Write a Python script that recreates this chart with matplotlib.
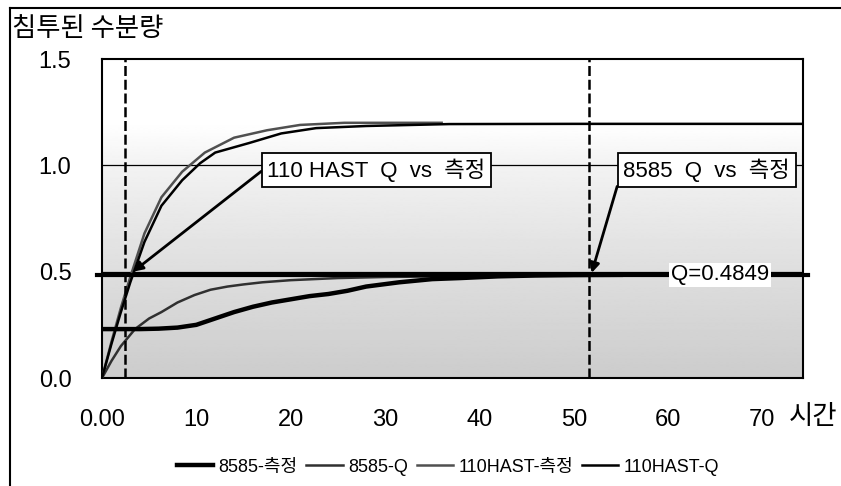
import numpy as np
import matplotlib
matplotlib.use('Agg')
import matplotlib.pyplot as plt
from matplotlib.lines import Line2D

# ---------- Data ----------
# 8585 condition: measured uptake and Q-model curve
t_8585_meas = [0, 2, 4, 6, 8, 10, 12, 14, 16, 18, 20, 22, 24, 26, 28, 31.5, 35, 38, 42, 46, 50, 55]
w_8585_meas = [0.23, 0.23, 0.23, 0.232, 0.237, 0.25, 0.28, 0.31, 0.335, 0.355, 0.37, 0.385,
               0.395, 0.41, 0.43, 0.45, 0.465, 0.47, 0.478, 0.482, 0.484, 0.485]

t_8585_q = [0, 1, 2, 3.5, 5, 6.3, 8, 9.8, 11.5, 13.3, 15, 17, 20, 25, 30, 40, 50, 60, 74.3]
w_8585_q = [0.0, 0.08, 0.15, 0.23, 0.28, 0.31, 0.355, 0.39, 0.415, 0.43, 0.44, 0.45,
            0.46, 0.47, 0.475, 0.48, 0.483, 0.484, 0.4849]

# 110HAST condition: measured uptake and Q-model curve
t_hast_meas = [0, 1, 2, 3, 4.5, 6.3, 8.5, 10.9, 14, 17.5, 21, 25.7, 30, 36]
w_hast_meas = [0.0, 0.17, 0.33, 0.475, 0.68, 0.85, 0.97, 1.06, 1.13, 1.165, 1.19, 1.20, 1.20, 1.20]

t_hast_q = [0, 1, 2, 3, 4.5, 6.3, 8.5, 10.4, 12, 15.6, 19, 22.7, 28, 36.8, 50, 74.3]
w_hast_q = [0.0, 0.16, 0.31, 0.45, 0.64, 0.81, 0.93, 1.01, 1.06, 1.105, 1.15, 1.175,
            1.185, 1.194, 1.195, 1.195]

Q_VALUE = 0.4849
T_CROSS = [2.4, 51.6]          # times marked by dashed verticals
X_TICKS = [0, 10, 20, 30, 40, 50, 60, 70]
X_TICK_LABELS = ['0.00', '10', '20', '30', '40', '50', '60', '70']
Y_TICKS = [0.0, 0.5, 1.0, 1.5]
Y_TICK_LABELS = ['0.0', '0.5', '1.0', '1.5']
SERIES_LABELS = ['8585-측정', '8585-Q', '110HAST-측정', '110HAST-Q']

X_MAX = 74.3
SANS = ['Liberation Sans', 'Noto Sans CJK KR', 'DejaVu Sans']
KOREAN = ['Noto Sans CJK KR', 'DejaVu Sans']

W, H = 841, 486
fig = plt.figure(figsize=(W / 100, H / 100), dpi=100)
ax = fig.add_axes([102 / W, 1 - 378 / H, (803 - 102) / W, (378 - 59) / H])

# shaded plot area: grey at the bottom fading to white near the top
yy = np.linspace(0, 1.5, 300)
shade = np.interp(yy, [0, 0.5, 1.0, 1.2, 1.5], [0.80, 0.87, 0.95, 1.0, 1.0]).reshape(-1, 1)
ax.imshow(shade, cmap='gray', vmin=0, vmax=1, origin='lower', aspect='auto',
          extent=[0, X_MAX, 0, 1.5], zorder=0, interpolation='bilinear')

# gridlines at 0.5 and 1.0
for yv in [0.5, 1.0]:
    ax.axhline(yv, color='black', lw=0.9, zorder=1)

# curves
ax.plot(t_8585_meas, w_8585_meas, color='black', lw=3.2, zorder=4, label=SERIES_LABELS[0])
ax.plot(t_8585_q, w_8585_q, color='#303030', lw=1.8, zorder=3, label=SERIES_LABELS[1])
ax.plot(t_hast_meas, w_hast_meas, color='#505050', lw=1.8, zorder=3, label=SERIES_LABELS[2])
ax.plot(t_hast_q, w_hast_q, color='black', lw=1.8, zorder=3, label=SERIES_LABELS[3])

# Q level line, runs slightly past the frame
ax.plot([-0.5, X_MAX + 0.5], [Q_VALUE, Q_VALUE], color='black', lw=3, zorder=5, clip_on=False)
ax.text(65.5, Q_VALUE, f'Q={Q_VALUE}', family=SANS, fontsize=16, ha='center', va='center',
        zorder=6, bbox=dict(boxstyle='square,pad=0.08', fc='white', ec='none'))

for tx in T_CROSS:
    ax.axvline(tx, color='black', lw=1.8, ls=(0, (4, 1.5)), zorder=5)

# callouts
ax.annotate('110 HAST  Q  vs  측정', xy=(3.3, 0.50), xytext=(29.1, 0.978),
            textcoords='data', ha='center', va='center', family=SANS, fontsize=16, zorder=7,
            bbox=dict(boxstyle='square,pad=0.25', fc='white', ec='black', lw=1.3),
            arrowprops=dict(arrowstyle='-|>', color='black', lw=2, mutation_scale=14,
                            shrinkA=0, shrinkB=0, relpos=(0, 0.65)))
ax.annotate('8585  Q  vs  측정', xy=(51.9, 0.494), xytext=(64.1, 0.978),
            textcoords='data', ha='center', va='center', family=SANS, fontsize=16, zorder=7,
            bbox=dict(boxstyle='square,pad=0.25', fc='white', ec='black', lw=1.3),
            arrowprops=dict(arrowstyle='-|>', color='black', lw=2, mutation_scale=14,
                            shrinkA=0, shrinkB=0, relpos=(0, 0.7)))

ax.set_xlim(0, X_MAX)
ax.set_ylim(0, 1.5)
ax.set_xticks(X_TICKS, X_TICK_LABELS)
ax.set_yticks(Y_TICKS, Y_TICK_LABELS)
ax.tick_params(axis='both', length=0)
ax.tick_params(axis='x', pad=22)
ax.tick_params(axis='y', pad=22)
for lab in ax.get_xticklabels():
    lab.set_family(SANS)
    lab.set_fontsize(17)
for lab in ax.get_yticklabels():
    lab.set_family(SANS)
    lab.set_fontsize(17)
for spine in ax.spines.values():
    spine.set_edgecolor('black')
    spine.set_linewidth(1.5)

# axis titles
fig.text(12 / W, 1 - 28 / H, '침투된 수분량', family=KOREAN, fontsize=19, ha='left', va='center')
fig.text(813 / W, 1 - 416 / H, '시간', family=KOREAN, fontsize=19, ha='center', va='center')

# legend under the plot
handles, labels = ax.get_legend_handles_labels()
fig.legend(handles, labels, loc='center', bbox_to_anchor=(448 / W, 19 / H), ncol=4,
           frameon=False, handlelength=2.0, handletextpad=0.3, columnspacing=0.5,
           prop={'family': SANS, 'size': 13})

# outer frame
fig.add_artist(Line2D([10 / W, 10 / W], [0, 1 - 8 / H], color='black', lw=1.5))
fig.add_artist(Line2D([10 / W, 1], [1 - 8 / H, 1 - 8 / H], color='black', lw=1.5))

fig.savefig('out.png', dpi=100)
